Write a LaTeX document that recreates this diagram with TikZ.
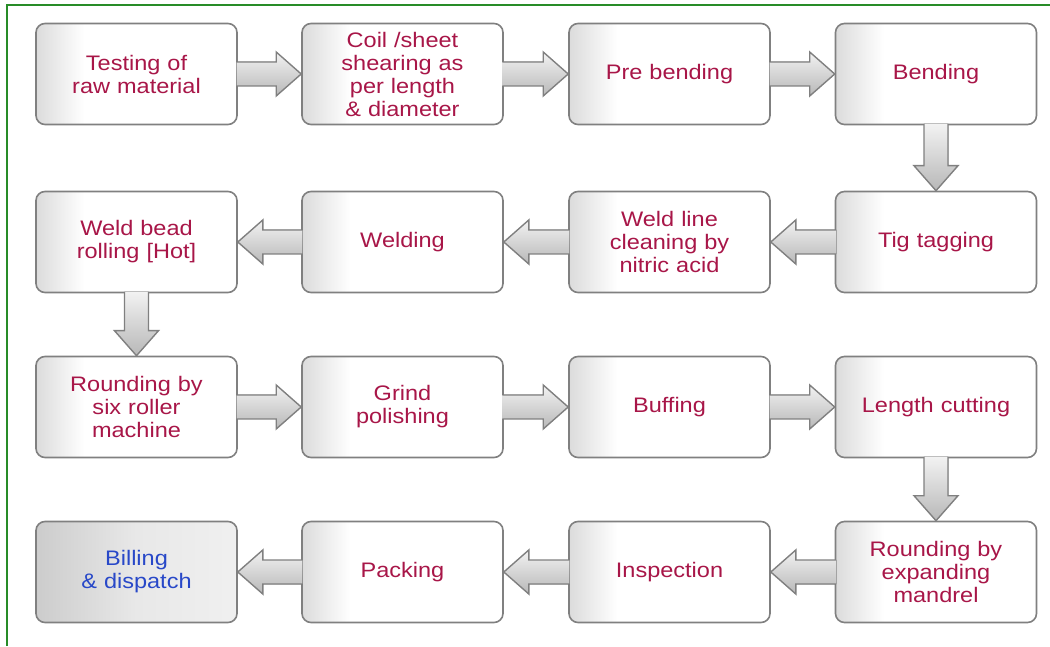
\documentclass[tikz,border=0pt]{standalone}
\usepackage{fontspec}
\setmainfont{Liberation Sans}[FakeStretch=1.12]
\usetikzlibrary{calc}
\definecolor{steptext}{RGB}{168,22,72}
\definecolor{endtext}{RGB}{40,72,200}
\definecolor{frame}{RGB}{40,140,40}
\pgfdeclarehorizontalshading{stepshade}{100bp}{color(0bp)=(black!14);
  color(25bp)=(black!14); color(37bp)=(white); color(100bp)=(white)}
\tikzset{
  stepbox/.style={draw=black!50, line width=1.6pt, rounded corners=9pt,
    shading=stepshade, minimum width=201pt, minimum height=101pt,
    inner sep=0pt, text width=195pt, align=center, text=steptext,
    font=\fontsize{21pt}{23pt}\selectfont},
  endbox/.style={stepbox, left color=black!20, right color=black!6,
    middle color=black!9, text=endtext},
  flowarrow/.style={draw=black!50, line width=1.4pt, line join=miter,
    top color=black!5, bottom color=black!28}
}
% block arrow from one anchor to another
\newcommand{\flow}[2]{%
  \coordinate (s) at ($(#1)!-1.5pt!(#2)$);
  \coordinate (t) at (#2);
  \coordinate (h) at ($(t)!25pt!(s)$);
  \filldraw[flowarrow] ($(s)!12pt!90:(t)$) -- ($(h)!12pt!90:(t)$)
    -- ($(h)!22pt!90:(t)$) -- (t) -- ($(h)!22pt!-90:(t)$)
    -- ($(h)!12pt!-90:(t)$) -- ($(s)!12pt!-90:(t)$);
}
\begin{document}
\begin{tikzpicture}[x=1pt,y=1pt]
  \useasboundingbox (0,0) rectangle (1050,646);
  \draw[frame, line width=2pt] (7,0) -- (7,641) -- (1050,641);
  % row 1
  \node[stepbox] (test) at (136.5,572) {Testing of\\raw material};
  \node[stepbox] (shear) at (402.5,572) {Coil /sheet\\shearing as\\per length\\\& diameter};
  \node[stepbox] (prebend) at (669.5,572) {Pre bending};
  \node[stepbox] (bend) at (936,572) {Bending};
  % row 2
  \node[stepbox] (tig) at (936,404) {Tig tagging};
  \node[stepbox] (clean) at (669.5,404) {Weld line\\cleaning by\\nitric acid};
  \node[stepbox] (weld) at (402.5,404) {Welding};
  \node[stepbox] (bead) at (136.5,404) {Weld bead\\rolling [Hot]};
  % row 3
  \node[stepbox] (sixroll) at (136.5,239) {Rounding by\\six roller\\machine};
  \node[stepbox] (grind) at (402.5,239) {Grind\\polishing};
  \node[stepbox] (buff) at (669.5,239) {Buffing};
  \node[stepbox] (cut) at (936,239) {Length cutting};
  % row 4
  \node[stepbox] (mandrel) at (936,74) {Rounding by\\expanding\\mandrel};
  \node[stepbox] (inspect) at (669.5,74) {Inspection};
  \node[stepbox] (pack) at (402.5,74) {Packing};
  \node[endbox] (bill) at (136.5,74) {Billing\\\& dispatch};
  % connectors
  \flow{test.east}{shear.west}
  \flow{shear.east}{prebend.west}
  \flow{prebend.east}{bend.west}
  \flow{bend.south}{tig.north}
  \flow{tig.west}{clean.east}
  \flow{clean.west}{weld.east}
  \flow{weld.west}{bead.east}
  \flow{bead.south}{sixroll.north}
  \flow{sixroll.east}{grind.west}
  \flow{grind.east}{buff.west}
  \flow{buff.east}{cut.west}
  \flow{cut.south}{mandrel.north}
  \flow{mandrel.west}{inspect.east}
  \flow{inspect.west}{pack.east}
  \flow{pack.west}{bill.east}
\end{tikzpicture}
\end{document}
